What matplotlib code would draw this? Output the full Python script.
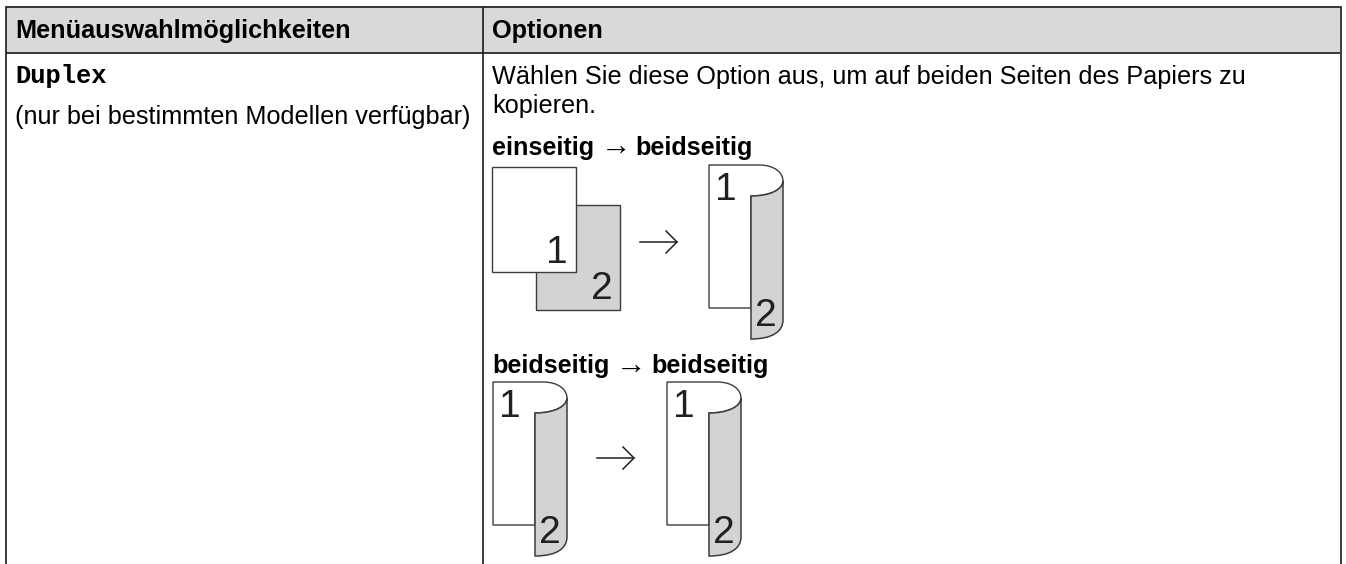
import matplotlib
matplotlib.use('Agg')
import matplotlib.pyplot as plt
from matplotlib.patches import PathPatch, Rectangle
from matplotlib.path import Path

W, H = 1346, 564

headers = ['Menüauswahlmöglichkeiten', 'Optionen']
menu_name = 'Duplex'
menu_note = '(nur bei bestimmten Modellen verfügbar)'
option_lines = ['Wählen Sie diese Option aus, um auf beiden Seiten des Papiers zu', 'kopieren.']
one_sided = 'einseitig'
two_sided = 'beidseitig'

SANS = 'Liberation Sans'
MONO = 'Liberation Mono'
GREY = '#d1d3d4'
EDGE = '#3c3c3c'
DIGIT = '#231f20'
LINE = '#1a1a1a'
FS = 18.2

fig = plt.figure(figsize=(W / 100, H / 100), dpi=100)
ax = fig.add_axes([0, 0, 1, 1])
ax.set_xlim(0, W)
ax.set_ylim(H, 0)
ax.axis('off')


def digit(x, y, s):
    ax.text(x, y, s, family=SANS, fontsize=28, color=DIGIT, ha='center', va='baseline')


def arrow(x, y):
    ax.plot([x, x + 37], [y, y], color='#231f20', lw=1.1)
    ax.plot([x + 26, x + 37, x + 26], [y - 11, y, y + 11], color='#231f20', lw=1.1)


def flat_sheets(x, y):
    ax.add_patch(Rectangle((x + 44, y + 38), 84, 105, fc=GREY, ec=EDGE, lw=1.0))
    ax.add_patch(Rectangle((x, y), 84, 105, fc='white', ec=EDGE, lw=1.0))
    digit(x + 65, y + 96, '1')
    digit(x + 110, y + 132, '2')


def booklet(x, y):
    # weisse seite mit umschlag oben rechts
    white = Path(
        [(x, y), (x + 50, y), (x + 66, y), (x + 74, y + 8), (x + 74, y + 16),
         (x + 74, y + 24), (x + 62, y + 31), (x + 42, y + 31), (x + 42, y + 143), (x, y + 143), (x, y)],
        [Path.MOVETO, Path.LINETO, Path.CURVE4, Path.CURVE4, Path.CURVE4,
         Path.CURVE4, Path.CURVE4, Path.CURVE4, Path.LINETO, Path.LINETO, Path.CLOSEPOLY])
    ax.add_patch(PathPatch(white, fc='white', ec=EDGE, lw=1.0))
    grey = Path(
        [(x + 42, y + 31), (x + 62, y + 31), (x + 74, y + 24), (x + 74, y + 16),
         (x + 74, y + 155), (x + 74, y + 166), (x + 64, y + 174), (x + 42, y + 174), (x + 42, y + 31)],
        [Path.MOVETO, Path.CURVE4, Path.CURVE4, Path.CURVE4,
         Path.LINETO, Path.CURVE4, Path.CURVE4, Path.CURVE4, Path.CLOSEPOLY])
    ax.add_patch(PathPatch(grey, fc=GREY, ec=EDGE, lw=1.1))
    digit(x + 17, y + 35, '1')
    digit(x + 57, y + 161, '2')


# tabelle
ax.add_patch(Rectangle((6, 6), 1334, 47, fc='#d9d9d9', ec='none'))
ax.plot([6, 6, 1340.5, 1340.5], [H, 6.5, 6.5, H], color=LINE, lw=1.2, solid_joinstyle='miter', solid_capstyle='butt')
ax.plot([6, 1340], [52.5, 52.5], color=LINE, lw=1.2, solid_capstyle='butt')
ax.plot([483, 483], [7, H], color=LINE, lw=1.2, solid_capstyle='butt')

ax.text(15, 38, headers[0], family=SANS, weight='bold', fontsize=FS, va='baseline')
ax.text(492, 38, headers[1], family=SANS, weight='bold', fontsize=FS, va='baseline')
ax.text(15, 83, menu_name, family=MONO, weight='bold', fontsize=18.4, va='baseline')
ax.text(15, 124, menu_note, family=SANS, fontsize=FS, va='baseline')
ax.text(492, 84, option_lines[0], family=SANS, fontsize=FS, va='baseline')
ax.text(492, 113, option_lines[1], family=SANS, fontsize=FS, va='baseline')

ax.text(492, 155, one_sided, family=SANS, weight='bold', fontsize=FS, va='baseline')
ax.text(601, 156, '→', family=SANS, fontsize=22, va='baseline')
ax.text(635, 155, two_sided, family=SANS, weight='bold', fontsize=FS, va='baseline')
ax.text(492, 373, two_sided, family=SANS, weight='bold', fontsize=FS, va='baseline')
ax.text(616, 375, '→', family=SANS, fontsize=22, va='baseline')
ax.text(651, 373, two_sided, family=SANS, weight='bold', fontsize=FS, va='baseline')

flat_sheets(492, 167)
arrow(640, 242)
booklet(709, 165)
booklet(493, 382)
arrow(597, 458)
booklet(667, 382)

fig.savefig('out.png', dpi=100)
